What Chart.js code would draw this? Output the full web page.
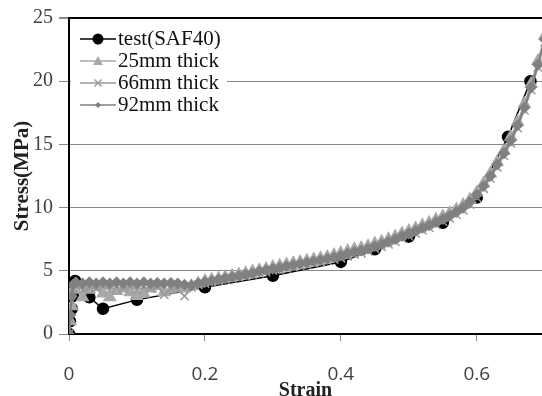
<!DOCTYPE html>
<html>
<head>
<meta charset="utf-8">
<script src="https://cdn.jsdelivr.net/npm/chart.js@4"></script>
<style>
  body { margin: 0; background: #fff; }
  canvas { display: block; }
</style>
</head>
<body>
<canvas id="stressChart" width="542" height="396"></canvas>
<script>
const seriesNames = ['test(SAF40)', '25mm thick', '66mm thick', '92mm thick'];

// test curve
const strainTest = [0, 0.0015, 0.004, 0.006, 0.009, 0.03, 0.05, 0.1, 0.2, 0.3, 0.4, 0.45, 0.5, 0.55, 0.6, 0.646, 0.679];
const stressTest = [0, 1, 2, 3, 4.2, 2.9, 2.0, 2.7, 3.7, 4.6, 5.7, 6.7, 7.7, 8.8, 10.8, 15.6, 20.0];

// simulated curves share one strain list
const strainThick = [0, 0.002, 0.004, 0.006,
  0.01, 0.02, 0.03, 0.04, 0.05, 0.06, 0.07, 0.08, 0.09, 0.10,
  0.11, 0.12, 0.13, 0.14, 0.15, 0.16, 0.17, 0.18, 0.19, 0.20,
  0.21, 0.22, 0.23, 0.24, 0.25, 0.26, 0.27, 0.28, 0.29, 0.30,
  0.31, 0.32, 0.33, 0.34, 0.35, 0.36, 0.37, 0.38, 0.39, 0.40,
  0.41, 0.42, 0.43, 0.44, 0.45, 0.46, 0.47, 0.48, 0.49, 0.50,
  0.51, 0.52, 0.53, 0.54, 0.55, 0.56, 0.57, 0.58, 0.59, 0.60,
  0.61, 0.62, 0.63, 0.64, 0.65, 0.66, 0.67, 0.68, 0.69, 0.70];

const stress25 = [0, 1.0, 2.2, 3.5,
  3.9, 2.9, 3.5, 3.7, 3.2, 2.9, 3.4, 3.6, 3.3, 3.0,
  3.2, 3.6, 3.8, 3.3, 3.5, 3.8, 3.6, 3.8, 4.0, 4.2,
  4.3, 4.4, 4.5, 4.6, 4.7, 4.8, 4.95, 5.05, 5.15, 5.3,
  5.4, 5.5, 5.6, 5.7, 5.8, 5.9, 6.0, 6.1, 6.25, 6.4,
  6.55, 6.7, 6.8, 6.95, 7.15, 7.3, 7.5, 7.7, 7.95, 8.15,
  8.35, 8.6, 8.8, 9.05, 9.3, 9.55, 9.85, 10.2, 10.65, 11.2,
  11.9, 12.7, 13.6, 14.5, 15.6, 16.8, 18.2, 19.8, 21.6, 23.6];

const stress66 = [0, 1.2, 2.6, 3.6,
  3.8, 3.5, 3.7, 3.6, 3.8, 3.5, 3.7, 3.6, 3.8, 3.5,
  3.7, 3.6, 3.8, 3.1, 3.6, 3.5, 3.0, 3.7, 3.9, 4.0,
  4.1, 4.2, 4.3, 4.4, 4.5, 4.6, 4.7, 4.8, 4.9, 5.05,
  5.1, 5.2, 5.3, 5.4, 5.5, 5.6, 5.7, 5.8, 5.9, 6.0,
  6.15, 6.3, 6.4, 6.55, 6.75, 6.9, 7.1, 7.3, 7.55, 7.75,
  7.95, 8.2, 8.4, 8.65, 8.9, 9.15, 9.45, 9.8, 10.25, 10.8,
  11.5, 12.3, 13.2, 14.1, 15.1, 16.3, 17.7, 19.3, 21.1, 23.1];

const stress92 = [0, 1.5, 3.0, 3.9,
  4.1, 4.0, 4.1, 4.0, 4.1, 4.0, 4.1, 4.0, 4.1, 4.0,
  4.1, 4.0, 4.05, 4.0, 4.05, 4.0, 3.9, 3.85, 4.0, 4.1,
  4.2, 4.3, 4.4, 4.5, 4.6, 4.7, 4.8, 4.95, 5.05, 5.15,
  5.25, 5.35, 5.45, 5.55, 5.65, 5.75, 5.85, 5.95, 6.05, 6.2,
  6.35, 6.5, 6.6, 6.75, 6.95, 7.1, 7.3, 7.5, 7.75, 7.95,
  8.15, 8.4, 8.6, 8.85, 9.1, 9.35, 9.65, 10.0, 10.45, 11.0,
  11.7, 12.5, 13.4, 14.3, 15.3, 16.5, 17.9, 19.5, 21.3, 23.3];

const xTicks = [0, 0.2, 0.4, 0.6];
const yTicks = [0, 5, 10, 15, 20, 25];

function toPoints(xs, ys) {
  return xs.map((x, i) => ({ x: x, y: ys[i] }));
}

// little line + marker image for each legend row
function legendSwatch(color, marker, size) {
  const c = document.createElement('canvas');
  c.width = 36;
  c.height = 14;
  const ctx = c.getContext('2d');
  ctx.strokeStyle = color;
  ctx.fillStyle = color;
  ctx.lineWidth = 1.5;
  ctx.beginPath();
  ctx.moveTo(0, 7);
  ctx.lineTo(36, 7);
  ctx.stroke();
  const cx = 18, cy = 7;
  ctx.beginPath();
  if (marker === 'circle') {
    ctx.arc(cx, cy, size, 0, Math.PI * 2);
    ctx.fill();
  } else if (marker === 'triangle') {
    ctx.moveTo(cx, cy - size);
    ctx.lineTo(cx + size, cy + size * 0.8);
    ctx.lineTo(cx - size, cy + size * 0.8);
    ctx.closePath();
    ctx.fill();
  } else if (marker === 'crossRot') {
    ctx.moveTo(cx - size, cy - size);
    ctx.lineTo(cx + size, cy + size);
    ctx.moveTo(cx + size, cy - size);
    ctx.lineTo(cx - size, cy + size);
    ctx.stroke();
  } else {
    ctx.moveTo(cx, cy - size);
    ctx.lineTo(cx + size, cy);
    ctx.lineTo(cx, cy + size);
    ctx.lineTo(cx - size, cy);
    ctx.closePath();
    ctx.fill();
  }
  return c;
}

const seriesColors = ['#000000', '#a8a8a8', '#9a9a9a', '#808080'];
const swatches = [
  legendSwatch(seriesColors[0], 'circle', 5.5),
  legendSwatch(seriesColors[1], 'triangle', 5),
  legendSwatch(seriesColors[2], 'crossRot', 3.5),
  legendSwatch(seriesColors[3], 'rectRot', 3)
];

const serif = "'Liberation Serif', 'Times New Roman', serif";

// the original plot runs off the right edge of the picture
const stretchRight = {
  id: 'stretchRight',
  afterLayout(chart) {
    const area = chart.chartArea;
    const xScale = chart.scales.x;
    area.right = chart.width;
    area.width = area.right - area.left;
    xScale.right = chart.width;
    xScale.width = xScale.right - xScale.left;
    xScale.configure();
  }
};

// legend sits inside the plot, on a white box that hides the grid line
const insideLegend = {
  id: 'insideLegend',
  beforeDatasetsDraw(chart) {
    const { ctx, chartArea } = chart;
    const x0 = chartArea.left + 11;
    const y0 = chartArea.top + 21;
    ctx.save();
    ctx.fillStyle = '#fff';
    ctx.fillRect(chartArea.left + 2, chartArea.top + 9, 156, 89);
    ctx.font = '21px ' + serif;
    ctx.textBaseline = 'middle';
    ctx.textAlign = 'left';
    ctx.fillStyle = '#111';
    seriesNames.forEach((name, i) => {
      const y = y0 + i * 22;
      ctx.drawImage(swatches[i], x0, y - 7);
      ctx.fillText(name, x0 + 38, y);
    });
    ctx.restore();
  }
};

new Chart(document.getElementById('stressChart'), {
  type: 'scatter',
  data: {
    datasets: [
      {
        label: seriesNames[0],
        data: toPoints(strainTest, stressTest),
        showLine: true,
        borderColor: seriesColors[0],
        backgroundColor: seriesColors[0],
        borderWidth: 1.5,
        pointStyle: 'circle',
        pointRadius: 5.5,
        order: 4
      },
      {
        label: seriesNames[1],
        data: toPoints(strainThick, stress25),
        showLine: true,
        borderColor: seriesColors[1],
        backgroundColor: seriesColors[1],
        borderWidth: 1.5,
        pointStyle: 'triangle',
        pointRadius: 6.5,
        order: 3
      },
      {
        label: seriesNames[2],
        data: toPoints(strainThick, stress66),
        showLine: true,
        borderColor: seriesColors[2],
        backgroundColor: seriesColors[2],
        borderWidth: 1.5,
        pointStyle: 'crossRot',
        pointRadius: 6,
        pointBorderWidth: 1.5,
        order: 2
      },
      {
        label: seriesNames[3],
        data: toPoints(strainThick, stress92),
        showLine: true,
        borderColor: seriesColors[3],
        backgroundColor: seriesColors[3],
        borderWidth: 2,
        pointStyle: 'rectRot',
        pointRadius: 4.5,
        order: 1
      }
    ]
  },
  options: {
    responsive: false,
    animation: false,
    devicePixelRatio: 1,
    layout: { padding: { top: 15, left: 0, right: 0, bottom: 0 } },
    plugins: {
      tooltip: { enabled: false },
      legend: { display: false }
    },
    scales: {
      x: {
        type: 'linear',
        min: 0,
        max: 0.696,
        afterBuildTicks: (scale) => { scale.ticks = xTicks.map(v => ({ value: v })); },
        afterFit: (scale) => { scale.height = 62; },
        ticks: {
          font: { family: "'Open Sans', sans-serif", size: 19 },
          color: '#404040',
          padding: 22,
          maxRotation: 0
        },
        grid: { drawOnChartArea: false, drawTicks: true, tickLength: 7, color: '#888' },
        border: { color: '#000', width: 2 },
        title: {
          display: true,
          text: 'Strain',
          color: '#222',
          font: { family: serif, size: 20, weight: 'bold', lineHeight: 0.5 },
          padding: 0
        }
      },
      y: {
        type: 'linear',
        min: 0,
        max: 25,
        afterBuildTicks: (scale) => { scale.ticks = yTicks.map(v => ({ value: v })); },
        afterFit: (scale) => { scale.width = 69; },
        ticks: {
          font: { family: serif, size: 20 },
          color: '#404040',
          padding: 6
        },
        grid: {
          color: (ctx) => ctx.tick && ctx.tick.value === 25 ? '#000' : (ctx.tick && ctx.tick.value === 0 ? 'rgba(0,0,0,0)' : '#888'),
          lineWidth: (ctx) => ctx.tick && ctx.tick.value === 25 ? 2 : 1,
          tickColor: '#888',
          tickLength: 10
        },
        border: { color: '#000', width: 2 },
        title: {
          display: true,
          text: 'Stress(MPa)',
          color: '#222',
          font: { family: serif, size: 21, weight: 'bold' },
          padding: { top: 10, bottom: 0 }
        }
      }
    }
  },
  plugins: [stretchRight, insideLegend]
});
</script>
</body>
</html>
